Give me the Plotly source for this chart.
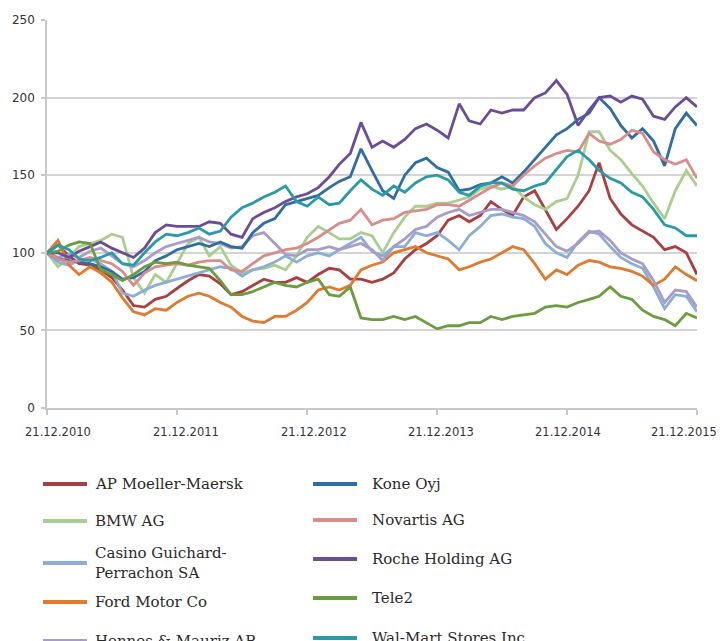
import plotly.graph_objects as go
import pandas as pd

# ---------------- data (monthly readings, index = 100 on 21.12.2010) ----------------
start = pd.Timestamp(2010, 12, 21)
dates = [start + pd.DateOffset(months=i) for i in range(61)]

tick_dates = ["2010-12-21", "2011-12-21", "2012-12-21", "2013-12-21", "2014-12-21", "2015-12-21"]
tick_labels = ["21.12.2010", "21.12.2011", "21.12.2012", "21.12.2013", "21.12.2014", "21.12.2015"]
y_ticks = [0, 50, 100, 150, 200, 250]

names = ["AP Moeller-Maersk", "BMW AG", "Casino Guichard-<br>Perrachon SA", "Ford Motor Co",
         "Hennes & Mauriz AB", "Kone Oyj", "Novartis AG", "Roche Holding AG", "Tele2",
         "Wal-Mart Stores Inc"]
colors = ["#a8403f", "#a9cf8e", "#8aaed6", "#e07b2e", "#a89cc9",
          "#2f6da5", "#d98d8b", "#6b4c9a", "#6a9d3e", "#2a9aab"]

maersk = [100, 105, 98, 93, 92, 89, 84, 76, 66, 65, 70, 72, 77, 82, 86, 85, 80, 73, 75, 79,
          83, 81, 81, 84, 81, 86, 90, 89, 83, 83, 81, 83, 87, 96, 102, 106, 111, 121, 124, 120,
          124, 133, 128, 124, 136, 140, 128, 115, 122, 130, 140, 158, 135, 125, 118, 114, 110, 102, 104, 100,
          86]
bmw = [100, 91, 97, 104, 106, 108, 112, 110, 84, 74, 86, 81, 93, 106, 110, 98, 104, 92, 87, 89,
       90, 92, 89, 98, 110, 117, 113, 109, 109, 113, 111, 100, 113, 123, 130, 130, 132, 132, 134, 136,
       141, 143, 141, 143, 136, 131, 128, 133, 135, 150, 178, 178, 166, 160, 151, 143, 132, 122, 140, 153,
       143]
casino = [100, 94, 92, 95, 96, 93, 88, 74, 72, 76, 79, 81, 83, 85, 87, 89, 91, 90, 85, 89,
          91, 94, 98, 94, 98, 100, 98, 102, 106, 110, 101, 98, 104, 104, 113, 111, 113, 108, 102, 111,
          117, 124, 125, 123, 122, 117, 106, 100, 97, 107, 114, 112, 104, 97, 93, 90, 78, 64, 73, 72,
          62]
ford = [100, 108, 92, 86, 91, 87, 81, 71, 62, 60, 64, 63, 68, 72, 74, 72, 68, 65, 59, 56,
        55, 59, 59, 63, 68, 76, 78, 76, 79, 89, 92, 94, 100, 102, 104, 100, 98, 96, 89, 91,
        94, 96, 100, 104, 102, 93, 83, 89, 86, 92, 95, 94, 91, 90, 88, 85, 79, 83, 91, 86,
        82]
hm = [100, 97, 99, 97, 101, 103, 98, 93, 91, 95, 100, 104, 106, 108, 110, 107, 106, 103, 104, 111,
      113, 106, 99, 98, 102, 102, 104, 102, 104, 106, 102, 95, 104, 109, 115, 117, 123, 126, 128, 124,
      126, 128, 128, 126, 124, 120, 112, 104, 101, 106, 113, 114, 108, 100, 96, 93, 82, 68, 76, 75,
      65]
kone = [100, 96, 95, 94, 93, 91, 88, 83, 84, 88, 95, 98, 102, 104, 106, 104, 107, 104, 103, 113,
        119, 122, 131, 133, 135, 137, 142, 146, 149, 167, 153, 140, 135, 150, 158, 161, 155, 152, 140, 141,
        144, 145, 149, 145, 152, 160, 168, 176, 180, 186, 190, 200, 193, 182, 174, 180, 172, 156, 180, 190,
        182]
novartis = [100, 96, 94, 95, 97, 95, 93, 88, 79, 87, 91, 92, 93, 92, 94, 95, 95, 89, 88, 93,
            98, 100, 102, 103, 106, 110, 115, 119, 121, 128, 118, 121, 122, 126, 127, 128, 131, 131, 130, 134,
            138, 142, 145, 143, 150, 156, 161, 164, 166, 165, 177, 172, 170, 173, 179, 177, 165, 160, 157, 160,
            148]
roche = [100, 100, 97, 101, 104, 107, 103, 100, 97, 103, 113, 118, 117, 117, 117, 120, 119, 112, 110, 122,
         126, 129, 133, 136, 138, 142, 149, 157, 164, 184, 168, 172, 168, 173, 180, 183, 179, 174, 196, 185,
         183, 192, 190, 192, 192, 200, 203, 211, 202, 182, 192, 200, 201, 197, 201, 199, 188, 186, 194, 200,
         194]
tele2 = [100, 101, 105, 107, 106, 89, 86, 82, 86, 91, 94, 93, 94, 92, 91, 90, 82, 73, 73, 75,
         78, 81, 79, 78, 81, 83, 73, 72, 78, 58, 57, 57, 59, 57, 59, 55, 51, 53, 53, 55,
         55, 59, 57, 59, 60, 61, 65, 66, 65, 68, 70, 72, 78, 72, 70, 63, 59, 57, 53, 61,
         58]
walmart = [100, 105, 102, 96, 95, 97, 100, 93, 92, 100, 107, 112, 111, 113, 116, 112, 114, 123, 129, 132,
           136, 139, 143, 133, 130, 136, 131, 132, 140, 147, 141, 137, 143, 139, 145, 149, 150, 147, 139, 137,
           143, 145, 145, 141, 140, 143, 145, 154, 162, 166, 160, 153, 148, 145, 139, 136, 128, 118, 116, 111,
           111]

series = [maersk, bmw, casino, ford, hm, kone, novartis, roche, tele2, walmart]

# ---------------- figure ----------------
# the page body has an 8px margin, so the figure is drawn 8px in from the top-left
OFF = 8
W, H = 728 - OFF, 641 - OFF
L, R, T, B = 47, 697, 20, 408          # plot area in window pixels

fig = go.Figure()
for name, col, vals in zip(names, colors, series):
    fig.add_trace(go.Scatter(x=dates, y=vals, mode="lines", name=name.replace("<br>", " "),
                             line=dict(color=col, width=2.8), showlegend=False))

fig.update_layout(
    width=W, height=H,
    margin=dict(l=L - OFF, r=W - (R - OFF), t=T - OFF, b=H - (B - OFF), autoexpand=False),
    paper_bgcolor="white", plot_bgcolor="white",
    font=dict(family="DejaVu Sans", size=12, color="#333333"),
)
fig.update_xaxes(
    type="date", range=[tick_dates[0], tick_dates[-1]],
    tickvals=tick_dates, ticktext=tick_labels, automargin=False,
    showticklabels=False,
    showgrid=False, zeroline=False,
    showline=True, linecolor="#c8c8c8", linewidth=1.5,
    ticks="outside", ticklen=5, tickcolor="#c8c8c8", tickwidth=1.5,
)
fig.update_yaxes(
    range=[0, 250], tickvals=y_ticks, automargin=False,
    showgrid=True, gridcolor="#d4d4d4", gridwidth=1.5, zeroline=False,
    showline=True, linecolor="#c8c8c8", linewidth=1.5,
    ticks="outside", ticklen=4, tickcolor="#c8c8c8", tickwidth=1.5,
    ticklabelstandoff=4,
    tickfont=dict(family="DejaVu Sans", size=12, color="#333333"),
)

def px(x):
    return (x - L) / (R - L)

def py(y):
    return (B - y) / (B - T)

# x tick labels (placed as in the reference, last one kept inside the window)
label_cx = [58, 186, 314, 441, 568, 684]
for cx, lab in zip(label_cx, tick_labels):
    fig.add_annotation(xref="paper", yref="paper", x=px(cx), y=py(432), text=lab,
                       showarrow=False, xanchor="center", yanchor="middle",
                       font=dict(family="DejaVu Sans", size=11.5, color="#333333"))

# ---------------- custom two-column legend ----------------
col_x = [(43, 87, 93), (313, 357, 370)]
rows_y = [[484, 521, 563, 602, 641], [484, 520, 559, 598, 638]]
for i, (name, col) in enumerate(zip(names, colors)):
    c = i // 5
    r = i % 5
    x0, x1, xt = col_x[c]
    yy = rows_y[c][r]
    fig.add_shape(type="line", xref="paper", yref="paper",
                  x0=px(x0), x1=px(x1), y0=py(yy), y1=py(yy),
                  line=dict(color=col, width=4))
    fig.add_annotation(xref="paper", yref="paper", x=px(xt), y=py(yy),
                       text=name, showarrow=False, xanchor="left", yanchor="middle",
                       align="left",
                       font=dict(family="DejaVu Serif", size=15, color="#2a2a2a"))

fig.write_html("out.html")
